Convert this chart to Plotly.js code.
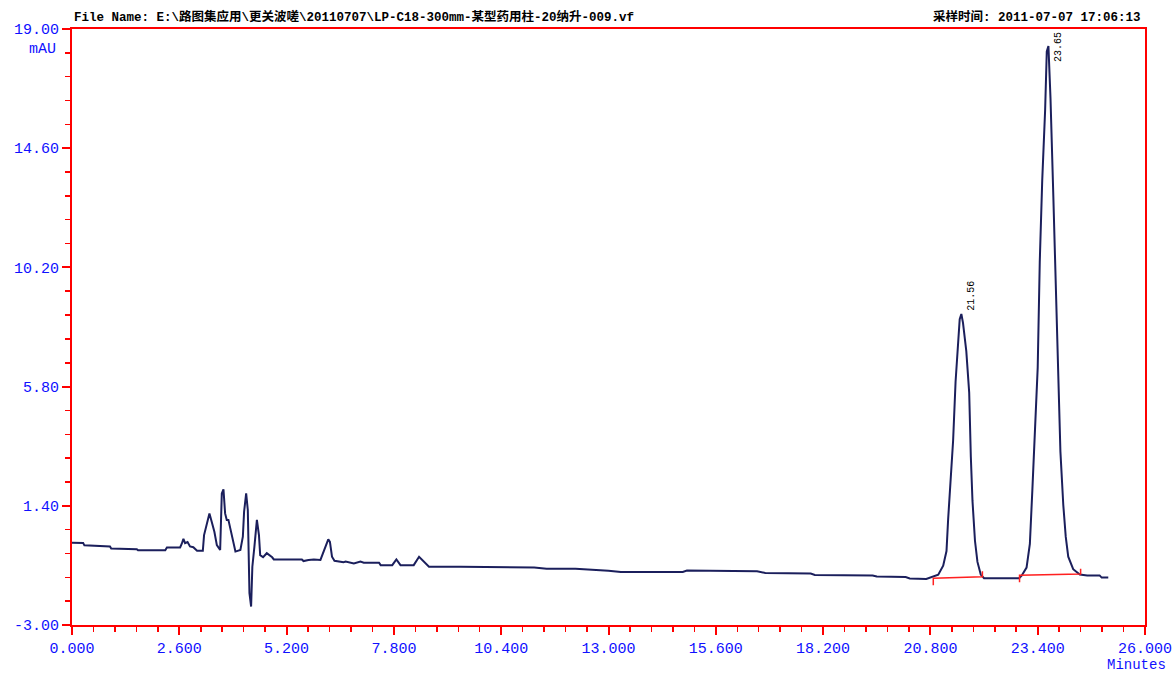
<!DOCTYPE html>
<html>
<head>
<meta charset="utf-8">
<script src="https://cdn.plot.ly/plotly-3.0.1.min.js"></script>
<style>html,body{margin:0;padding:0;background:#fff;}#chart{width:1176px;height:675px;}</style>
</head>
<body>
<div id="chart"></div>
<script>
// Retention time (minutes)
const timeMin = [
  0.00,0.27,0.30,0.92,0.95,1.57,1.60,2.26,2.30,2.62,2.66,2.70,2.74,2.80,2.86,2.94,3.03,3.17,3.20,3.27,
  3.33,3.39,3.45,3.51,3.59,3.63,3.67,3.71,3.75,3.79,3.87,3.96,4.08,4.14,4.17,4.22,4.26,4.29,4.30,4.34,
  4.37,4.42,4.44,4.48,4.53,4.56,4.63,4.72,4.85,4.89,5.57,5.61,5.73,5.86,6.02,6.14,6.21,6.25,6.30,6.36,
  6.58,6.63,6.83,6.99,7.07,7.44,7.48,7.76,7.86,7.96,8.28,8.41,8.53,8.65,9.42,10.40,11.20,11.50,12.20,13.00,
  13.30,14.80,14.90,16.60,16.80,17.90,18.00,19.40,19.50,20.20,20.30,20.70,20.80,20.99,21.11,21.19,21.23,21.29,21.35,21.41,
  21.46,21.51,21.55,21.59,21.67,21.74,21.78,21.82,21.88,21.94,22.02,22.10,22.95,23.01,23.13,23.21,23.27,23.33,23.40,23.45,
  23.51,23.58,23.62,23.66,23.71,23.78,23.84,23.90,23.95,24.02,24.08,24.14,24.26,24.42,24.60,24.90,24.95,25.11
];
// Detector signal (mAU)
const signalMAU = [
  0.04,0.03,-0.06,-0.10,-0.18,-0.20,-0.24,-0.24,-0.14,-0.14,0.00,0.18,0.02,0.06,-0.10,-0.13,-0.26,-0.26,0.32,0.75,
  1.12,0.78,0.44,-0.05,-0.23,1.86,2.01,1.12,0.88,0.88,0.32,-0.29,-0.23,0.26,1.18,1.86,1.24,-0.85,-1.83,-2.32,
  -0.85,-0.11,0.32,0.88,0.32,-0.42,-0.50,-0.35,-0.50,-0.58,-0.58,-0.64,-0.60,-0.58,-0.60,-0.11,0.16,0.07,-0.48,-0.63,
  -0.68,-0.66,-0.73,-0.66,-0.70,-0.70,-0.79,-0.79,-0.58,-0.79,-0.79,-0.48,-0.66,-0.85,-0.85,-0.86,-0.88,-0.92,-0.92,-1.00,
  -1.04,-1.04,-0.99,-1.02,-1.08,-1.10,-1.15,-1.17,-1.21,-1.23,-1.28,-1.30,-1.24,-1.14,-0.81,-0.27,0.91,2.43,3.80,5.98,
  7.37,8.29,8.48,8.15,7.11,5.58,3.20,1.58,0.11,-0.67,-1.14,-1.27,-1.27,-1.18,-0.88,-0.01,1.96,4.20,6.50,10.40,
  13.43,16.01,18.17,18.37,16.45,12.76,9.60,6.63,3.41,1.43,0.25,-0.48,-0.94,-1.14,-1.17,-1.17,-1.25,-1.25
];
// Peak labels
const peakLabels = ["21.56", "23.65"];
const peakTimes = [21.55, 23.66];
const peakHeights = [8.48, 18.37];
// Integration baselines
const intStartT = [20.87, 22.96];
const intStartV = [-1.27, -1.16];
const intEndT = [22.06, 24.44];
const intEndV = [-1.22, -1.12];
// Axis ticks
const xTickVals = [0, 2.6, 5.2, 7.8, 10.4, 13.0, 15.6, 18.2, 20.8, 23.4, 26.0];
const xTickText = ["0.000","2.600","5.200","7.800","10.400","13.000","15.600","18.200","20.800","23.400","26.000"];
const yTickVals = [-3, 1.4, 5.8, 10.2, 14.6, 19];
const yTickText = ["-3.00","1.40","5.80","10.20","14.60","19.00"];
const yMin = -3, yMax = 19;
// Header texts
const fileNameText = "File Name: E:\\路图集应用\\更关波嗟\\20110707\\LP-C18-300mm-某型药用柱-20纳升-009.vf";
const sampleTimeText = "采样时间: 2011-07-07 17:06:13";

// baseline segments with end markers
const segX = [], segY = [];
for (let i = 0; i < intStartT.length; i++) {
  segX.push(intStartT[i], intStartT[i], intEndT[i], intEndT[i], null);
  segY.push(intStartV[i] - 0.26, intStartV[i], intEndV[i], intEndV[i] + 0.2, null);
}

const blue = "#1010ff";
const axisFont = {family: "Liberation Mono, DejaVu Sans Mono, monospace", size: 15, color: blue};
const unitFont = {family: "Liberation Mono, DejaVu Sans Mono, monospace", size: 14, color: blue};
const headFont = {family: "Liberation Mono, Noto Sans CJK SC, monospace", size: 12.5, color: "#000", weight: "bold"};

const traces = [
  {x: timeMin, y: signalMAU, type: "scatter", mode: "lines",
   line: {color: "#1b1f5c", width: 2}, hoverinfo: "skip"},
  {x: segX, y: segY, type: "scatter", mode: "lines",
   line: {color: "#ff2020", width: 1.5}, hoverinfo: "skip"}
];

const annotations = [
  {xref: "paper", yref: "paper", x: 0, y: 1, xanchor: "left", yanchor: "bottom", yshift: 2,
   text: fileNameText, showarrow: false, font: headFont},
  {xref: "paper", yref: "paper", x: 1, y: 1, xanchor: "right", yanchor: "bottom", yshift: 2, xshift: -2,
   text: sampleTimeText, showarrow: false, font: headFont},
  {xref: "paper", yref: "paper", x: 0, y: 1, xanchor: "right", yanchor: "top", xshift: -14, yshift: -10,
   text: "mAU", showarrow: false, font: axisFont},
  {xref: "paper", yref: "paper", x: 1, y: 0, xanchor: "left", yanchor: "top", xshift: -40, yshift: -30,
   text: "Minutes", showarrow: false, font: unitFont}
];
for (let i = 0; i < peakLabels.length; i++) {
  // keep the label inside the plot frame, as the data system does
  const nearTop = peakHeights[i] + 1.2 > yMax;
  annotations.push({x: peakTimes[i], y: nearTop ? yMax : peakHeights[i], xref: "x", yref: "y",
    text: peakLabels[i], textangle: -90, showarrow: false,
    xanchor: "left", yanchor: nearTop ? "top" : "bottom", xshift: 2, yshift: nearTop ? -1 : 1,
    font: {family: "Liberation Mono, monospace", size: 10, color: "#000"}});
}

const layout = {
  width: 1176, height: 675,
  margin: {l: 72, r: 31, t: 29, b: 50},
  paper_bgcolor: "#fff", plot_bgcolor: "#fff",
  showlegend: false,
  xaxis: {range: [0, 26], tickvals: xTickVals, ticktext: xTickText,
    ticks: "outside", ticklen: 8, tickwidth: 2, tickcolor: "#ff0000",
    showline: true, linecolor: "#ff0000", linewidth: 2, mirror: true,
    showgrid: false, zeroline: false, tickfont: axisFont,
    minor: {dtick: 0.52, tick0: 0, ticks: "outside", ticklen: 5, tickwidth: 1.5, tickcolor: "#ff0000", showgrid: false}},
  yaxis: {range: [yMin, yMax], tickvals: yTickVals, ticktext: yTickText,
    ticks: "outside", ticklen: 8, tickwidth: 2, tickcolor: "#ff0000",
    showline: true, linecolor: "#ff0000", linewidth: 2, mirror: true,
    showgrid: false, zeroline: false, tickfont: axisFont,
    minor: {dtick: 0.88, tick0: -3, ticks: "outside", ticklen: 5, tickwidth: 1.5, tickcolor: "#ff0000", showgrid: false}},
  annotations: annotations
};

Plotly.newPlot("chart", traces, layout, {staticPlot: true, displayModeBar: false});
</script>
</body>
</html>
